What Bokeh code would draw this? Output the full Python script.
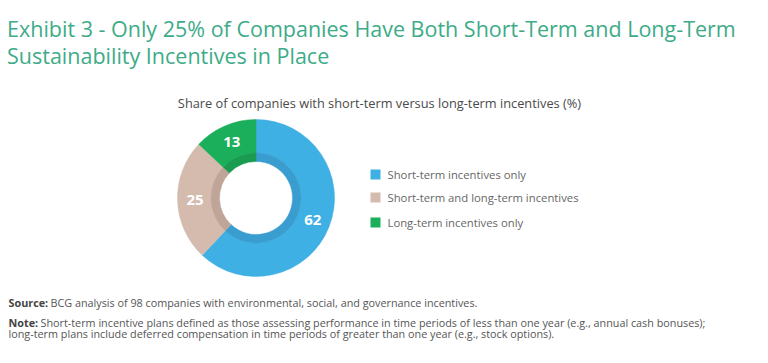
import math
from bokeh.plotting import figure
from bokeh.models import Range1d, ColumnDataSource
from bokeh.core.properties import value
from bokeh.embed import file_html
from bokeh.resources import INLINE

# ---- data ----
categories = ["Short-term incentives only", "Short-term and long-term incentives", "Long-term incentives only"]
shares = [62, 25, 13]
colors = ["#3FB0E4", "#D4BBAE", "#1BAF5C"]
inner_colors = ["#3A9DD0", "#BEA598", "#199B51"]
title_lines = ["Exhibit 3 - Only 25% of Companies Have Both Short-Term and Long-Term",
               "Sustainability Incentives in Place"]
subtitle = "Share of companies with short-term versus long-term incentives (%)"
source_label = "Source:"
source_text = "BCG analysis of 98 companies with environmental, social, and governance incentives."
note_label = "Note:"
note_lines = ["Short-term incentive plans defined as those assessing performance in time periods of less than one year (e.g., annual cash bonuses);",
              "long-term plans include deferred compensation in time periods of greater than one year (e.g., stock options)."]

W, H = 768, 363
p = figure(width=W, height=H, output_backend="svg", toolbar_location=None,
           x_range=Range1d(0, W), y_range=Range1d(0, H), min_border=0)
p.axis.visible = False
p.grid.visible = False
p.outline_line_color = None
p.background_fill_color = "white"
p.border_fill_color = "white"

FONT = value("Open Sans")

# ---- donut ----
cx, cy = 255.5, 165.5
R_out, R_mid, R_in = 78.5, 45, 36.5
total = sum(shares)
starts, ends, mids = [], [], []
a = math.pi / 2
for s in shares:
    sweep = s / total * 2 * math.pi
    starts.append(a)
    ends.append(a - sweep)
    mids.append(a - sweep / 2)
    a -= sweep

src = ColumnDataSource(dict(x=[cx] * 3, y=[cy] * 3, start=starts, end=ends,
                            color=colors, icolor=inner_colors, cat=categories,
                            lab=[str(s) for s in shares],
                            lx=[cx + 61 * math.cos(m) for m in mids],
                            ly=[cy + 61 * math.sin(m) for m in mids]))
p.annular_wedge(x="x", y="y", inner_radius=R_mid, outer_radius=R_out,
                start_angle="end", end_angle="start", fill_color="color",
                line_color="color", line_width=0.5, source=src)
p.annular_wedge(x="x", y="y", inner_radius=R_in, outer_radius=R_mid,
                start_angle="end", end_angle="start", fill_color="icolor",
                line_color="icolor", line_width=0.5, source=src)
p.text(x="lx", y="ly", text="lab", source=src, text_color="white",
       text_font=value("Open Sans"), text_font_style="bold", text_font_size="15px",
       text_align="center", text_baseline="middle")

# ---- legend ----
ly = [189, 166, 141]
lsrc = ColumnDataSource(dict(x=[375] * 3, tx=[387] * 3, y=ly, color=colors, cat=categories))
p.rect(x="x", y="y", width=10, height=10, fill_color="color", line_color=None, source=lsrc)
p.text(x="tx", y="y", text="cat", source=lsrc, text_color="#666666",
       text_font=FONT, text_font_size="11.3px", text_baseline="middle")

# ---- titles ----
p.text(x=[6.5, 6.5], y=[334.7, 308], text=title_lines, text_color="#3EAB88",
       text_font=FONT, text_font_size="21.5px", text_baseline="alphabetic")
p.text(x=[379], y=[260.3], text=[subtitle], text_color="#4A4A4A",
       text_font=FONT, text_font_size="12.8px", text_align="center",
       text_baseline="alphabetic")

# ---- source / note ----
fs = "10.8px"
p.text(x=[8], y=[61.3], text=[source_label], text_color="#444444", text_font=FONT,
       text_font_style="bold", text_font_size=fs, text_baseline="alphabetic")
p.text(x=[50], y=[61.3], text=[source_text], text_color="#555555", text_font=FONT,
       text_font_size=fs, text_baseline="alphabetic")
p.text(x=[8], y=[41.3], text=[note_label], text_color="#444444", text_font=FONT,
       text_font_style="bold", text_font_size=fs, text_baseline="alphabetic")
p.text(x=[40], y=[41.3], text=[note_lines[0]], text_color="#555555", text_font=FONT,
       text_font_size=fs, text_baseline="alphabetic")
p.text(x=[8], y=[30.3], text=[note_lines[1]], text_color="#555555", text_font=FONT,
       text_font_size=fs, text_baseline="alphabetic")

open("out.html", "w").write(file_html(p, INLINE))
